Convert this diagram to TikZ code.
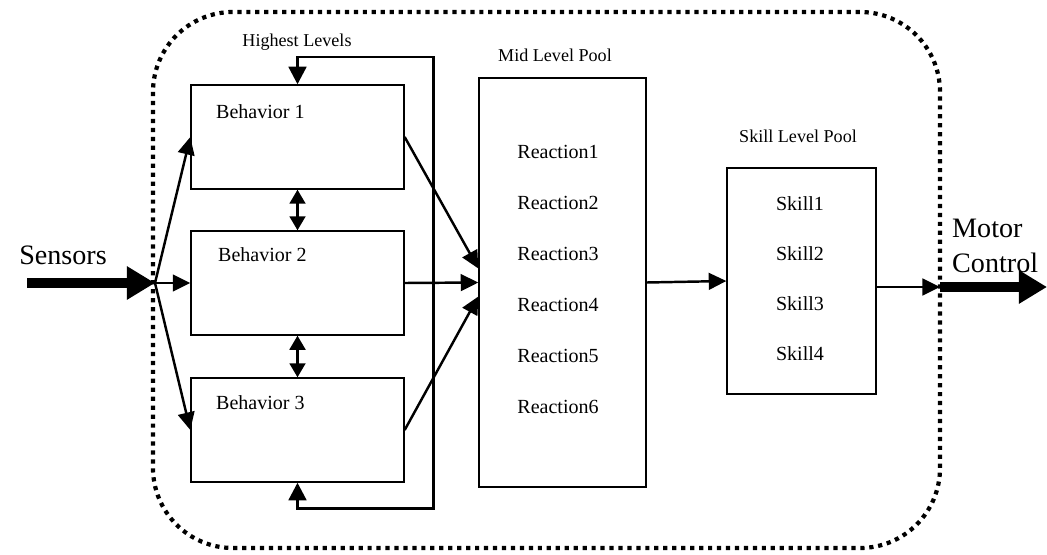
\documentclass[tikz,border=0pt]{standalone}
\usepackage{fontspec}
\setmainfont{Liberation Serif}
\usetikzlibrary{arrows.meta}
\usetikzlibrary{calc}

\tikzset{
  box/.style={draw, line width=0.8pt, inner sep=0pt},
  flow/.style={line width=1.4pt, -{Triangle[length=10pt,width=9.5pt]}},
  both/.style={line width=1.4pt, {Triangle[length=8pt,width=9pt]}-{Triangle[length=8pt,width=9pt]}},
  feedback/.style={line width=1.7pt, {Triangle[length=10pt,width=10pt]}-{Triangle[length=10pt,width=10pt]}},
  fat/.style={line width=5.7pt, -{Triangle[length=16pt,width=18pt]}},
  border/.style={line width=2.4pt, dash pattern=on 2.4pt off 2.7pt},
  pool/.style={font=\fontsize{10.3}{12}\selectfont},
  item/.style={font=\fontsize{11.4}{13}\selectfont},
  big/.style={font=\fontsize{16}{20}\selectfont},
}

\begin{document}
\begin{tikzpicture}[x=0.02cm,y=-0.02cm]
  \useasboundingbox (0,0) rectangle (1047,554);

  % outer border
  \draw [border, rounded corners=1.6cm] (153,12) rectangle (940,548);

  % behaviors
  \node [box, minimum width=4.26cm, minimum height=2.08cm] (b1) at (297.5,137) {};
  \node [box, minimum width=4.26cm, minimum height=2.08cm] (b2) at (297.5,283) {};
  \node [box, minimum width=4.26cm, minimum height=2.08cm] (b3) at (297.5,430) {};
  \node [item, anchor=west] (t1) at (210,112) {Behavior 1};
  \node [item, anchor=west] (t2) at (212,255) {Behavior 2};
  \node [item, anchor=west] (t3) at (210,403) {Behavior 3};

  % pools
  \node [box, minimum width=3.34cm, minimum height=8.18cm] (mid) at (562.5,282.5) {};
  \foreach \i in {1,...,6}
    \node [item] (r\i) at (558,{152+51*(\i-1)}) {Reaction\i};
  \node [box, minimum width=2.98cm, minimum height=4.52cm] (skill) at (801.5,281) {};
  \foreach \i in {1,...,4}
    \node [item] (s\i) at (800,{204+50*(\i-1)}) {Skill\i};

  \node [pool] (hl) at (297,42) {Highest Levels};
  \node [pool] (ml) at (555,55) {Mid Level Pool};
  \node [pool] (sl) at (798,136) {Skill Level Pool};

  \node [big] (sens) at (63,255) {Sensors};
  \node [big, anchor=west, align=left] (mot) at (946,246) {Motor\\Control};

  \coordinate (sin) at (27,283);
  \coordinate (fan) at (155,283);
  \coordinate (mc) at (940,287);
  \coordinate (mout) at (1047,287);
  \coordinate (fbtop) at (433,57);
  \coordinate (fbbot) at (433,508);

  \draw [fat] (sin) -- (fan);
  \foreach \b in {b1,b2,b3}
    \draw [flow] (fan) -- (\b.west);

  \draw [flow] (b1.east) -- ($ (mid.west)+(0,-14) $);
  \draw [flow] (b2.east) -- (mid.west);
  \draw [flow] (b3.east) -- ($ (mid.west)+(0,14) $);

  \draw [both] (b1.south) -- (b2.north);
  \draw [both] (b2.south) -- (b3.north);
  \draw [feedback] (b1.north) |- (fbtop) -- (fbbot) -| (b3.south);

  \draw [flow] (mid.east) -- (skill.west);
  \draw [flow] ($ (skill.east)+(0,6) $) -- (mc);
  \draw [fat] (mc) -- (mout);
\end{tikzpicture}
\end{document}
